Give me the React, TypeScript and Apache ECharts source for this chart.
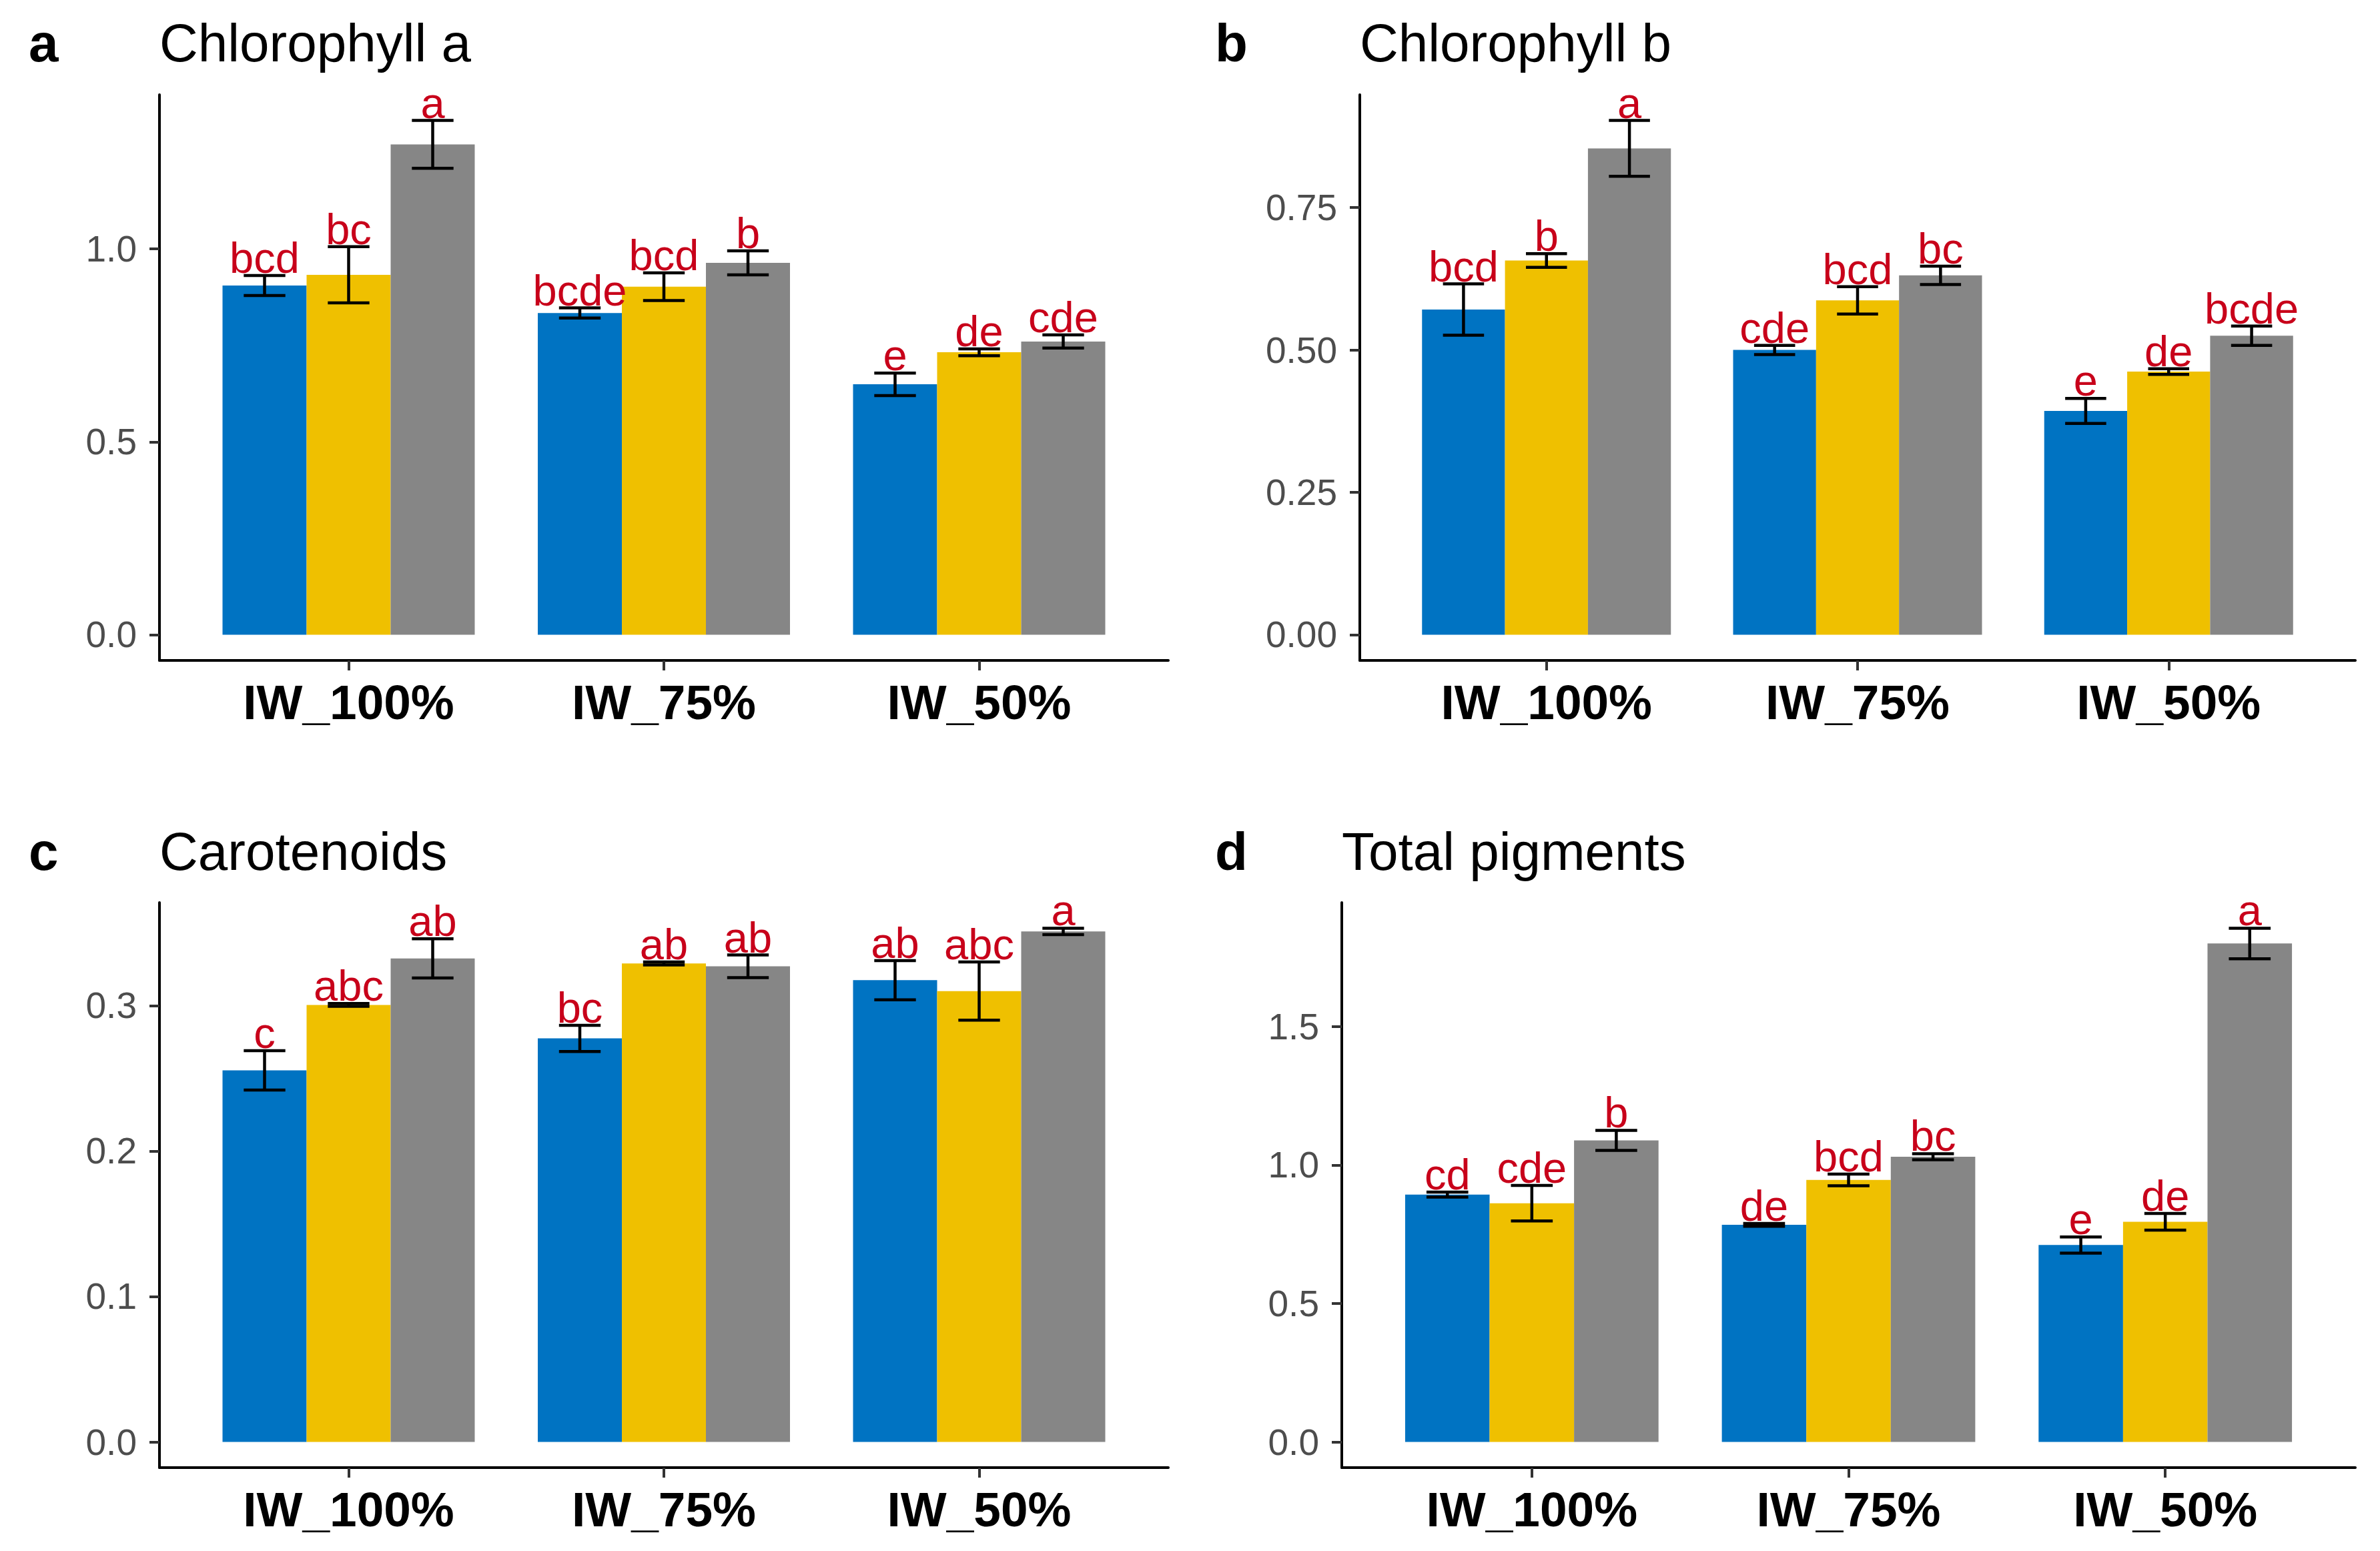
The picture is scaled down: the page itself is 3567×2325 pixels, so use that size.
import React, { useEffect, useRef } from "react";
import * as echarts from "echarts";

const categories = ["IW_100%", "IW_75%", "IW_50%"];
const seriesColors = ["#0073C2", "#EFC000", "#868686"];

// Panel a: Chlorophyll a
const chlA_blue = [0.905, 0.834, 0.649];
const chlA_blue_sd = [0.026, 0.013, 0.029];
const chlA_yellow = [0.933, 0.902, 0.732];
const chlA_yellow_sd = [0.073, 0.036, 0.009];
const chlA_gray = [1.271, 0.964, 0.76];
const chlA_gray_sd = [0.062, 0.031, 0.017];
const chlA_letters = [
  ["bcd", "bcde", "e"],
  ["bc", "bcd", "de"],
  ["a", "b", "cde"],
];
const chlA_ticks = [0, 0.5, 1.0];

// Panel b: Chlorophyll b
const chlB_blue = [0.571, 0.5, 0.393];
const chlB_blue_sd = [0.045, 0.008, 0.022];
const chlB_yellow = [0.657, 0.587, 0.462];
const chlB_yellow_sd = [0.012, 0.024, 0.005];
const chlB_gray = [0.854, 0.631, 0.525];
const chlB_gray_sd = [0.049, 0.016, 0.017];
const chlB_letters = [
  ["bcd", "cde", "e"],
  ["b", "bcd", "de"],
  ["a", "bc", "bcde"],
];
const chlB_ticks = [0, 0.25, 0.5, 0.75];

// Panel c: Carotenoids
const car_blue = [0.2555, 0.2775, 0.3175];
const car_blue_sd = [0.0135, 0.009, 0.0135];
const car_yellow = [0.3005, 0.329, 0.31];
const car_yellow_sd = [0.001, 0.001, 0.02];
const car_gray = [0.3325, 0.327, 0.351];
const car_gray_sd = [0.0135, 0.0078, 0.0022];
const car_letters = [
  ["c", "bc", "ab"],
  ["abc", "ab", "abc"],
  ["ab", "ab", "a"],
];
const car_ticks = [0, 0.1, 0.2, 0.3];

// Panel d: Total pigments
const tot_blue = [0.893, 0.784, 0.711];
const tot_blue_sd = [0.009, 0.005, 0.029];
const tot_yellow = [0.862, 0.946, 0.795];
const tot_yellow_sd = [0.064, 0.021, 0.03];
const tot_gray = [1.089, 1.03, 1.8];
const tot_gray_sd = [0.036, 0.011, 0.055];
const tot_letters = [
  ["cd", "de", "e"],
  ["cde", "bcd", "de"],
  ["b", "bc", "a"],
];
const tot_ticks = [0, 0.5, 1.0, 1.5];

const FONT = '"Liberation Sans", Arial, Helvetica, sans-serif';

type Panel = {
  tag: string;
  title: string;
  means: number[][];
  sds: number[][];
  letters: string[][];
  ticks: number[];
  decimals: number;
  grid: { left: number; top: number; width: number; height: number };
};

const panels: Panel[] = [
  {
    tag: "a",
    title: "Chlorophyll a",
    means: [chlA_blue, chlA_yellow, chlA_gray],
    sds: [chlA_blue_sd, chlA_yellow_sd, chlA_gray_sd],
    letters: chlA_letters,
    ticks: chlA_ticks,
    decimals: 1,
    grid: { left: 239, top: 142, width: 1512, height: 848 },
  },
  {
    tag: "b",
    title: "Chlorophyll b",
    means: [chlB_blue, chlB_yellow, chlB_gray],
    sds: [chlB_blue_sd, chlB_yellow_sd, chlB_gray_sd],
    letters: chlB_letters,
    ticks: chlB_ticks,
    decimals: 2,
    grid: { left: 2038, top: 142, width: 1492, height: 848 },
  },
  {
    tag: "c",
    title: "Carotenoids",
    means: [car_blue, car_yellow, car_gray],
    sds: [car_blue_sd, car_yellow_sd, car_gray_sd],
    letters: car_letters,
    ticks: car_ticks,
    decimals: 1,
    grid: { left: 239, top: 1353, width: 1512, height: 847 },
  },
  {
    tag: "d",
    title: "Total pigments",
    means: [tot_blue, tot_yellow, tot_gray],
    sds: [tot_blue_sd, tot_yellow_sd, tot_gray_sd],
    letters: tot_letters,
    ticks: tot_ticks,
    decimals: 1,
    grid: { left: 2011, top: 1353, width: 1519, height: 847 },
  },
];

function buildOption() {
  const grids: any[] = [];
  const xAxes: any[] = [];
  const yAxes: any[] = [];
  const series: any[] = [];
  const graphics: any[] = [];
  const tagX = [43, 1821, 43, 1821];

  panels.forEach((p, pi) => {
    grids.push({ ...p.grid, containLabel: false });
    let ymax = 0;
    p.means.forEach((arr, s) =>
      arr.forEach((m, c) => {
        ymax = Math.max(ymax, m + p.sds[s][c]);
      })
    );
    const pad = ymax * 0.05;

    xAxes.push({
      type: "value",
      gridIndex: pi,
      min: 0.4,
      max: 3.6,
      splitLine: { show: false },
      axisLine: { show: true, onZero: false, lineStyle: { color: "#000", width: 4 } },
      axisTick: {
        show: true,
        customValues: [1, 2, 3],
        length: 15,
        lineStyle: { color: "#333333", width: 4 },
      },
      axisLabel: {
        show: true,
        customValues: [1, 2, 3],
        formatter: (v: number) => categories[Math.round(v) - 1] ?? "",
        fontFamily: FONT,
        fontSize: 73,
        fontWeight: "bold",
        color: "#000",
        margin: 26,
      },
    });
    yAxes.push({
      type: "value",
      gridIndex: pi,
      min: -pad,
      max: ymax + pad,
      splitLine: { show: false },
      axisLine: { show: true, onZero: false, lineStyle: { color: "#000", width: 4 } },
      axisTick: {
        show: true,
        customValues: p.ticks,
        length: 15,
        lineStyle: { color: "#333333", width: 4 },
      },
      axisLabel: {
        show: true,
        customValues: p.ticks,
        formatter: (v: number) => v.toFixed(p.decimals),
        fontFamily: FONT,
        fontSize: 55,
        color: "#4D4D4D",
        margin: 34,
      },
    });

    p.means.forEach((arr, s) => {
      series.push({
        type: "bar",
        xAxisIndex: pi,
        yAxisIndex: pi,
        data: arr.map((m, c) => [c + 1, m]),
        barGap: "0%",
        barCategoryGap: "20%",
        itemStyle: { color: seriesColors[s] },
        silent: true,
      });
    });

    // error bars + letters
    const items: number[][] = [];
    const meta: { s: number; c: number }[] = [];
    p.means.forEach((arr, s) =>
      arr.forEach((m, c) => {
        items.push([c + 1 + (s - 1) * (0.8 / 3), m]);
        meta.push({ s, c });
      })
    );
    series.push({
      type: "custom",
      xAxisIndex: pi,
      yAxisIndex: pi,
      clip: false,
      silent: true,
      z: 10,
      data: items,
      renderItem: (params: any, api: any) => {
        const { s, c } = meta[params.dataIndex];
        const x = api.value(0);
        const m = p.means[s][c];
        const sd = p.sds[s][c];
        const hw = 0.066;
        const top = api.coord([x, m + sd]);
        const bot = api.coord([x, m - sd]);
        const tl = api.coord([x - hw, m + sd]);
        const tr = api.coord([x + hw, m + sd]);
        const bl = api.coord([x - hw, m - sd]);
        const br = api.coord([x + hw, m - sd]);
        const ls = { stroke: "#000", lineWidth: 4.5 };
        return {
          type: "group",
          children: [
            { type: "line", shape: { x1: top[0], y1: top[1], x2: bot[0], y2: bot[1] }, style: ls },
            { type: "line", shape: { x1: tl[0], y1: tl[1], x2: tr[0], y2: tr[1] }, style: ls },
            { type: "line", shape: { x1: bl[0], y1: bl[1], x2: br[0], y2: br[1] }, style: ls },
            {
              type: "text",
              x: top[0],
              y: top[1] - 4 - 0.3465 * 65,
              style: {
                text: p.letters[s][c],
                fill: "#C8001A",
                fontSize: 65,
                fontFamily: FONT,
                align: "center",
                verticalAlign: "middle",
              },
            },
          ],
        };
      },
    });

    const baseY = pi < 2 ? 92 : 1304;
    graphics.push({
      type: "text",
      x: tagX[pi],
      y: baseY - 0.3465 * 80,
      style: {
        text: p.tag,
        fontSize: 80,
        fontWeight: "bold",
        fontFamily: FONT,
        fill: "#000",
        align: "left",
        verticalAlign: "middle",
      },
    });
    graphics.push({
      type: "text",
      x: p.grid.left,
      y: baseY - 0.3465 * 80,
      style: {
        text: p.title,
        fontSize: 80,
        fontFamily: FONT,
        fill: "#000",
        align: "left",
        verticalAlign: "middle",
      },
    });
  });

  return {
    animation: false,
    backgroundColor: "#FFFFFF",
    grid: grids,
    xAxis: xAxes,
    yAxis: yAxes,
    series,
    graphic: graphics,
  };
}

export default function App() {
  const ref = useRef<HTMLDivElement>(null);
  useEffect(() => {
    if (!ref.current) return;
    const chart = echarts.init(ref.current, undefined, { renderer: "svg" });
    chart.setOption(buildOption() as any);
    return () => chart.dispose();
  }, []);
  return (
    <div
      ref={ref}
      style={{ position: "absolute", left: 0, top: 0, width: 3567, height: 2325, background: "#fff" }}
    />
  );
}
